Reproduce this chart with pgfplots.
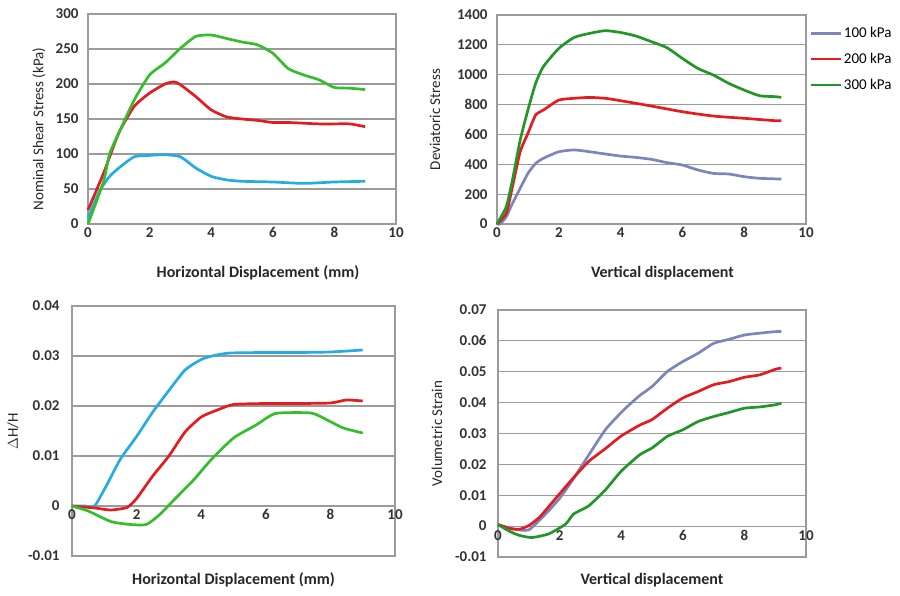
\documentclass[border=0pt]{standalone}
\usepackage{fontspec}
\setmainfont{Carlito}
\usepackage{pgfplots}
\pgfplotsset{compat=1.18}

\definecolor{cBlue}{RGB}{38,172,226}
\definecolor{cGreyBlue}{RGB}{124,134,184}
\definecolor{cRed}{RGB}{228,28,34}
\definecolor{cGreen}{RGB}{52,190,44}
\definecolor{cDkGreen}{RGB}{34,150,40}
\definecolor{cGrid}{RGB}{155,155,155}

\pgfplotsset{
  xlpanel/.style={
    scale only axis, anchor=south west,
    xmin=0, xmax=10, xtick={0,2,...,10},
    ymajorgrids=true,
    major grid style={draw=cGrid, line width=1.2pt},
    axis line style={draw=cGrid, line width=1.2pt},
    xtick style={draw=none}, ytick style={draw=none},
    tick label style={font=\fontsize{15}{15}\selectfont\bfseries, text=black!80},
    /pgf/number format/assume math mode=true,
    /pgf/number format/1000 sep={},
    ylabel style={font=\fontsize{15}{15}\selectfont, text=black!85},
    xlabel style={font=\fontsize{16}{16}\selectfont\bfseries, text=black!85},
    every axis plot/.append style={line width=2.7pt, no markers, line join=round, smooth, tension=0.35},
    clip=false,
  },
}

\begin{document}
\begin{tikzpicture}
\useasboundingbox (0pt,0pt) rectangle (900pt,595pt);

% top left: shear stress
\begin{axis}[xlpanel, at={(88pt,371pt)}, width=308pt, height=210pt,
  ymin=0, ymax=300, ytick={0,50,...,300},
  yticklabel style={xshift=-6pt},
  xlabel={Horizontal Displacement (mm)},
  xlabel style={at={([xshift=16pt,yshift=-49pt]axis description cs:0.5,0)}, anchor=center},
  ylabel={Nominal Shear Stress (kPa)},
  ylabel style={at={([xshift=-49pt,yshift=-10pt]axis description cs:0,0.5)}, anchor=center}]
\addplot[cBlue] coordinates {(0,8) (0.2,30) (0.4,49) (0.7,68) (1,80) (1.5,96) (2,98) (2.5,99) (3,96) (3.5,80) (4,68) (4.5,63) (5,61) (6,60) (7,58) (8,60) (9,61)};
\addplot[cRed] coordinates {(0,20) (0.5,72) (1,130) (1.5,168) (2,187) (2.5,200) (2.8,203) (3,199) (3.5,182) (4,163) (4.5,153) (5,150) (5.5,148) (6,145) (6.5,145) (7,144) (7.5,143) (8,143) (8.5,143) (9,139)};
\addplot[cGreen] coordinates {(0,0) (0.5,60) (0.7,100) (1,130) (1.5,177) (2,213) (2.5,230) (3,251) (3.5,268) (4,270) (4.5,265) (5,260) (5.5,256) (6,244) (6.5,222) (7,213) (7.5,206) (8,195) (8.5,194) (9,192)};
\end{axis}

% top right: deviatoric stress
\begin{axis}[xlpanel, at={(497pt,371pt)}, width=309pt, height=209pt,
  ymin=0, ymax=1400, ytick={0,200,...,1400},
  yticklabel style={xshift=-6pt},
  xlabel={Vertical displacement},
  xlabel style={at={([xshift=11pt,yshift=-49pt]axis description cs:0.5,0)}, anchor=center},
  ylabel={Deviatoric Stress},
  ylabel style={at={([xshift=-62pt]axis description cs:0,0.5)}, anchor=center},
  legend style={at={([xshift=0pt,yshift=-8pt]axis description cs:1,1)}, anchor=north west,
    draw=none, fill=none, font=\fontsize{15}{15}\selectfont, row sep=10pt,
    /tikz/every even column/.style={column sep=2pt}},
  legend cell align=left,
  legend image code/.code={\draw[#1] (0pt,0pt) -- (30pt,0pt);}]
\addplot[cGreyBlue] coordinates {(0,0) (0.1,0) (0.3,49) (0.5,138) (0.75,239) (1,339) (1.25,406) (1.5,440) (2,484) (2.5,496) (3,484) (3.5,469) (4,455) (4.5,446) (5,433) (5.5,411) (6,395) (6.5,362) (7,339) (7.5,335) (8,317) (8.5,306) (9.2,301)};
\addplot[cRed] coordinates {(0,0) (0.3,71) (0.5,250) (0.75,484) (1,607) (1.25,730) (1.5,763) (2,830) (2.5,842) (3,848) (3.5,842) (4,826) (5,790) (6,752) (7,723) (8,708) (9,692) (9.2,692)};
\addplot[cDkGreen] coordinates {(0,0) (0.3,116) (0.5,295) (0.75,562) (1,763) (1.25,942) (1.5,1054) (2,1176) (2.5,1250) (3,1277) (3.5,1295) (4,1283) (4.5,1259) (5,1221) (5.5,1181) (6,1109) (6.5,1042) (7,998) (7.5,942) (8,897) (8.5,859) (9,853) (9.2,848)};
\legend{100 kPa, 200 kPa, 300 kPa}
\end{axis}

% bottom left: dH/H
\begin{axis}[xlpanel, at={(72pt,39pt)}, width=323pt, height=250pt,
  ymin=-0.01, ymax=0.04, ytick={-0.01,0,0.01,0.02,0.03,0.04},
  scaled y ticks=false,
  yticklabel style={xshift=-9pt, /pgf/number format/fixed, /pgf/number format/precision=2},
  xticklabel style={yshift=50pt},
  xlabel={Horizontal Displacement (mm)},
  xlabel style={at={([yshift=-24pt]axis description cs:0.5,0)}, anchor=center},
  ylabel={$\Delta$H/H},
  ylabel style={at={([xshift=-59pt]axis description cs:0,0.5)}, anchor=center}]
\addplot[cBlue] coordinates {(0,0) (0.4,0) (0.7,0) (1.1,0.0045) (1.5,0.0094) (2,0.0139) (2.5,0.0188) (3,0.0231) (3.5,0.0272) (4,0.0293) (4.4,0.0301) (4.9,0.0306) (6,0.0307) (7,0.0307) (8,0.0308) (9,0.0312)};
\addplot[cRed] coordinates {(0,0) (0.7,-0.0004) (1.2,-0.0008) (1.7,-0.0003) (2,0.0015) (2.5,0.006) (3,0.01) (3.5,0.0148) (4,0.0178) (4.5,0.0192) (5,0.0203) (6,0.0205) (7,0.0205) (8,0.0206) (8.5,0.0212) (9,0.021)};
\addplot[cGreen] coordinates {(0,0) (0.5,-0.001) (1.2,-0.0031) (1.8,-0.0037) (2.3,-0.0037) (2.7,-0.0018) (3.2,0.0015) (3.75,0.0051) (4.3,0.0092) (5,0.0136) (5.7,0.0162) (6.3,0.0185) (7.4,0.0186) (7.9,0.0172) (8.4,0.0156) (9,0.0146)};
\end{axis}

% bottom right: volumetric strain
\begin{axis}[xlpanel, at={(498pt,38pt)}, width=308pt, height=247pt,
  ymin=-0.01, ymax=0.07, ytick={-0.01,0,0.01,0.02,0.03,0.04,0.05,0.06,0.07},
  scaled y ticks=false,
  yticklabel style={xshift=-8pt, /pgf/number format/fixed, /pgf/number format/precision=2},
  xticklabel style={yshift=30pt},
  xlabel={Vertical displacement},
  xlabel style={at={([yshift=-23pt]axis description cs:0.5,0)}, anchor=center},
  ylabel={Volumetric Strain},
  ylabel style={at={([xshift=-61pt]axis description cs:0,0.5)}, anchor=center}]
\addplot[cGreyBlue] coordinates {(0,0.0005) (0.5,-0.0009) (1,-0.0012) (1.6,0.0045) (2,0.009) (2.4,0.0146) (2.95,0.0231) (3.5,0.0314) (4.1,0.0378) (4.6,0.0423) (5,0.0452) (5.5,0.0501) (6,0.0533) (6.5,0.056) (7,0.0592) (7.5,0.0605) (8,0.0619) (8.5,0.0625) (9,0.063) (9.2,0.063)};
\addplot[cRed] coordinates {(0,0.0005) (0.4,-0.0008) (0.7,-0.001) (1,0.0002) (1.35,0.0029) (1.9,0.0093) (2.4,0.0151) (2.95,0.021) (3.5,0.0252) (4,0.0292) (4.6,0.0327) (5,0.0345) (5.5,0.0382) (6,0.0415) (6.5,0.0436) (7,0.0458) (7.5,0.0468) (8,0.0482) (8.5,0.049) (9,0.0508) (9.2,0.0512)};
\addplot[cDkGreen] coordinates {(0,0.0005) (0.4,-0.0018) (0.7,-0.003) (1.1,-0.0037) (1.65,-0.0025) (2.2,0.0007) (2.45,0.0039) (2.95,0.0066) (3.5,0.0119) (4,0.0178) (4.6,0.0231) (5,0.0253) (5.5,0.0291) (6,0.0312) (6.5,0.0339) (7,0.0355) (7.5,0.0368) (8,0.0382) (8.5,0.0386) (9,0.0393) (9.2,0.0398)};
\end{axis}
\end{tikzpicture}
\end{document}
